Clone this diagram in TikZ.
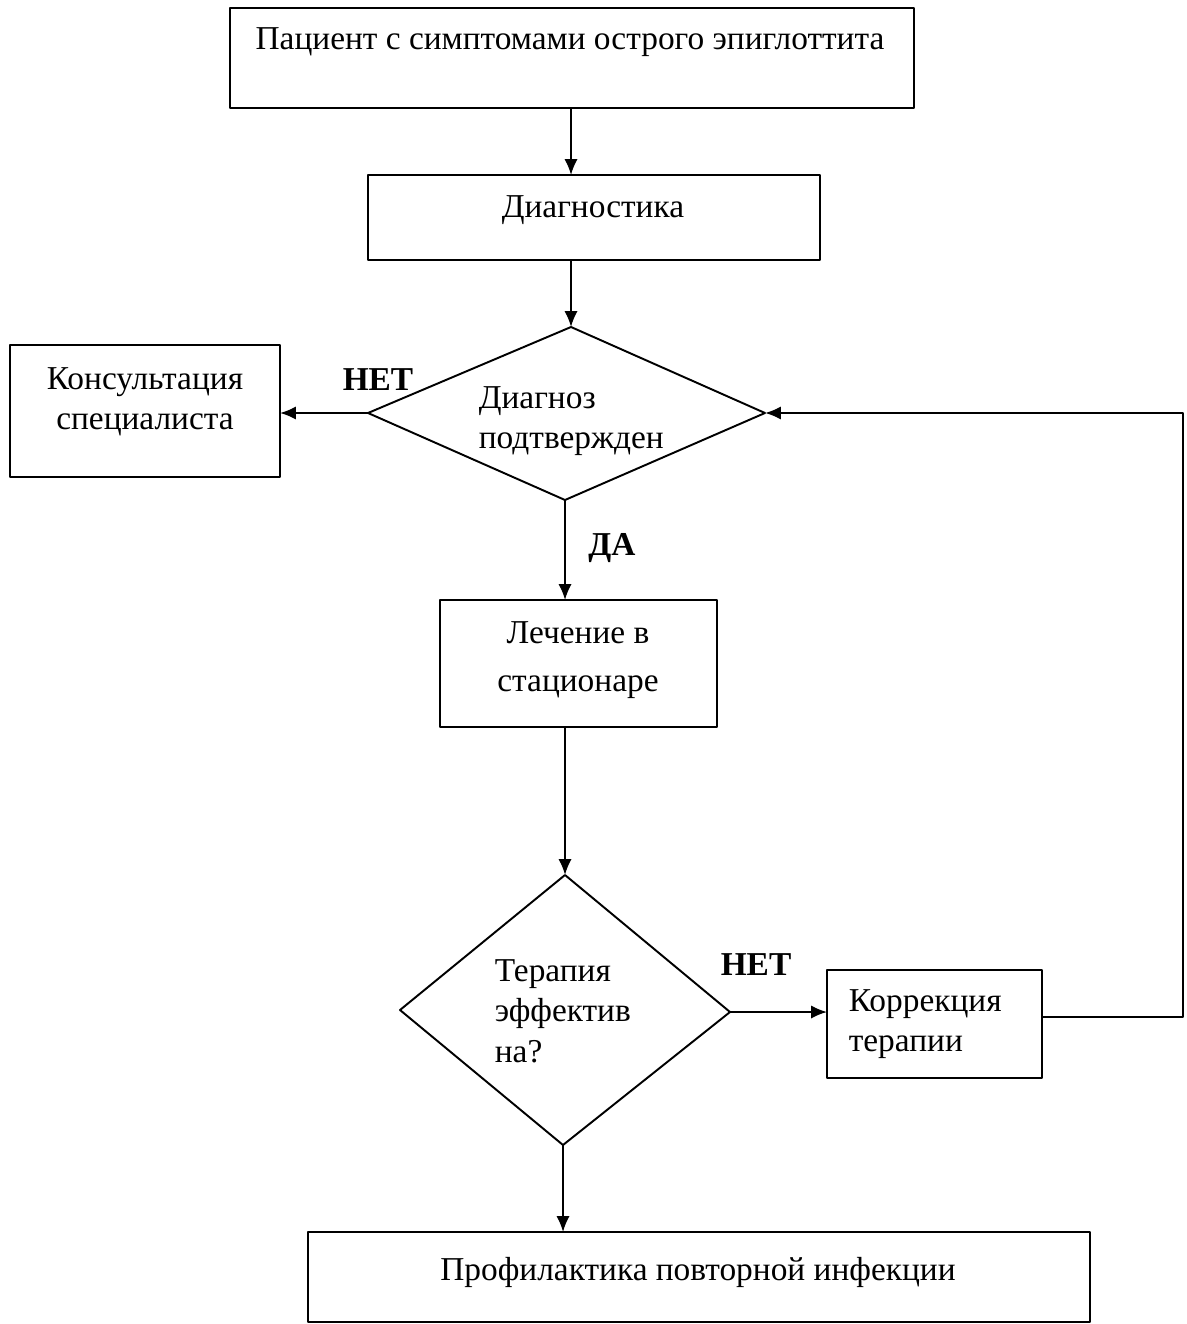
\documentclass[tikz,border=0pt]{standalone}
\usepackage{fontspec}
\setmainfont{Liberation Serif}
\usetikzlibrary{arrows.meta}

\begin{document}
\begin{tikzpicture}[x=0.02cm, y=-0.02cm, font=\fontsize{19}{23}\selectfont, line width=1.1pt, line join=round, >={Latex[length=9pt,width=7.5pt]}]
	\useasboundingbox (0,0) rectangle (1186,1324);
	% boxes
	\draw (230,8) rectangle (914,108);
	\node (pat) at (570,42) {Пациент с симптомами острого эпиглоттита};
	\draw (368,175) rectangle (820,260);
	\node (diag) at (593,210) {Диагностика};
	\draw (10,345) rectangle (280,477);
	\node[align=center] (kons) at (145,402) {Консультация\\специалиста};
	\draw (440,600) rectangle (717,727);
	\node[align=center] (lech) at (578,660) {Лечение в\\[4pt]стационаре};
	\draw (827,970) rectangle (1042,1078);
	\node[align=left, anchor=west] (korr) at (842,1024) {Коррекция\\терапии};
	\draw (308,1232) rectangle (1090,1322);
	\node (prof) at (698,1272) {Профилактика повторной инфекции};
	% diamonds
	\draw (571,327) coordinate (d1t) -- (765,413) coordinate (d1r) -- (565,500) coordinate (d1b) -- (368,413) coordinate (d1l) -- cycle;
	\node[align=left, anchor=west] (dz) at (472,421) {Диагноз\\подтвержден};
	\draw (565,875) coordinate (d2t) -- (730,1012) coordinate (d2r) -- (563,1145) coordinate (d2b) -- (400,1010) coordinate (d2l) -- cycle;
	\node[align=left, anchor=west] (ter) at (488,1011) {Терапия\\эффектив\\на?};
	% connection points
	\coordinate (b1b) at (571,108);
	\coordinate (b2t) at (571,175);
	\coordinate (b2b) at (571,260);
	\coordinate (b3r) at (280,413);
	\coordinate (b4t) at (565,600);
	\coordinate (b4b) at (565,727);
	\coordinate (b5l) at (827,1012);
	\coordinate (b5r) at (1042,1017);
	\coordinate (c1) at (1183,1017);
	\coordinate (c2) at (1183,413);
	\coordinate (b6t) at (563,1232);
	% arrows
	\draw[->] (b1b)--(b2t);
	\draw[->] (b2b)--(d1t);
	\draw[->] (d1l)--(b3r);
	\draw[->] (d1b)--(b4t);
	\draw[->] (b4b)--(d2t);
	\draw[->] (d2r)--(b5l);
	\draw[->] (b5r)--(c1)--(c2)--(d1r);
	\draw[->] (d2b)--(b6t);
	\node[font=\fontsize{19}{23}\selectfont\bfseries] (no1) at (378,380) {НЕТ};
	\node[font=\fontsize{19}{23}\selectfont\bfseries] (yes) at (612,548) {ДА};
	\node[font=\fontsize{19}{23}\selectfont\bfseries] (no2) at (756,965) {НЕТ};
\end{tikzpicture}
\end{document}
